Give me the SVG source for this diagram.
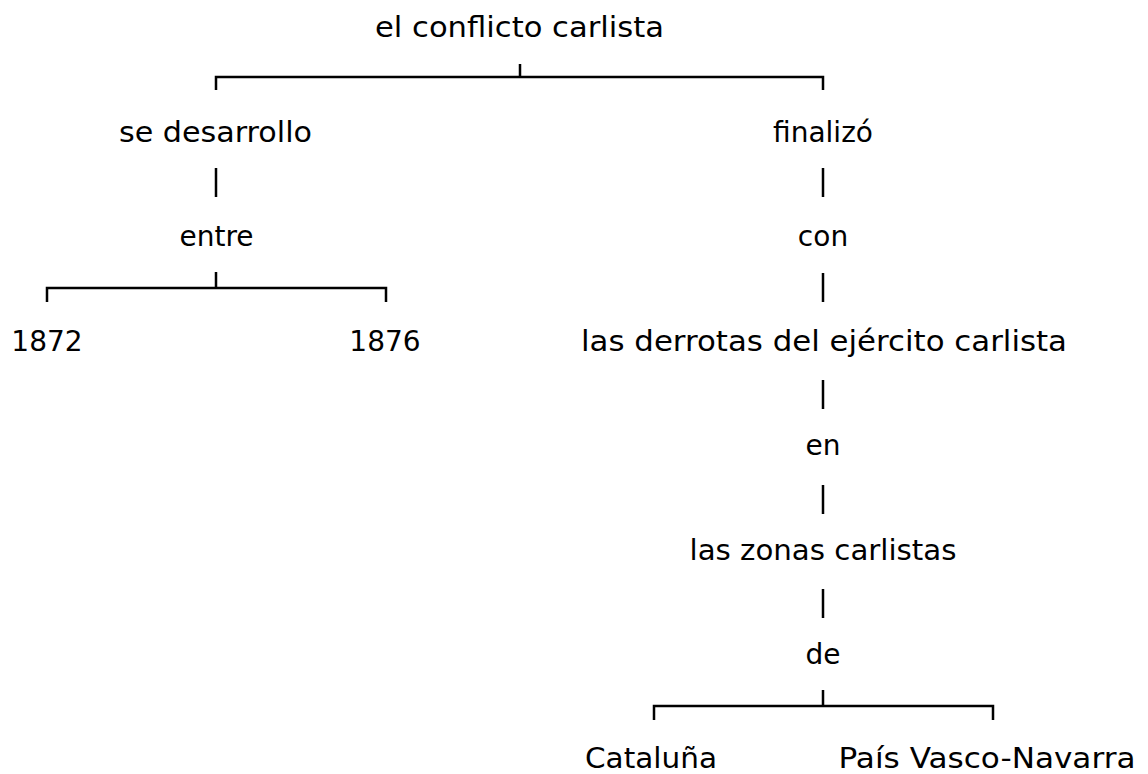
<svg xmlns="http://www.w3.org/2000/svg" width="1148" height="774" viewBox="0 0 1148 774">
<style>
text{font-family:"DejaVu Sans","Liberation Sans",sans-serif;font-size:28px;fill:#000;text-anchor:middle}
.c{stroke:#000;stroke-width:2.5;fill:none}
</style>
<rect width="1148" height="774" fill="#fff"/>
<g id="connectors">
<path class="c" d="M520,64V77M216,90V77H823V90"/>
<path class="c" d="M216,168V197"/>
<path class="c" d="M216,272V288M47,302V288H386V302"/>
<path class="c" d="M823,168V197"/>
<path class="c" d="M823,273V302"/>
<path class="c" d="M823,380V409"/>
<path class="c" d="M823,485V514"/>
<path class="c" d="M823,589V618"/>
<path class="c" d="M823,690V706M654,720V706H993V720"/>
</g>
<g id="n-root"><text x="519.5" y="37" textLength="289" lengthAdjust="spacingAndGlyphs">el conflicto carlista</text></g>
<g id="n-desarrollo"><text x="215.5" y="142" textLength="193" lengthAdjust="spacingAndGlyphs">se desarrollo</text></g>
<g id="n-entre"><text x="216.5" y="246">entre</text></g>
<g id="n-1872"><text x="47" y="351">1872</text></g>
<g id="n-1876"><text x="385" y="351">1876</text></g>
<g id="n-finalizo"><text x="823" y="142">finalizó</text></g>
<g id="n-con"><text x="823" y="246">con</text></g>
<g id="n-derrotas"><text x="824" y="351" textLength="486" lengthAdjust="spacingAndGlyphs">las derrotas del ejército carlista</text></g>
<g id="n-en"><text x="823" y="455">en</text></g>
<g id="n-zonas"><text x="823" y="560" textLength="267" lengthAdjust="spacingAndGlyphs">las zonas carlistas</text></g>
<g id="n-de"><text x="823" y="664">de</text></g>
<g id="n-cataluna"><text x="651" y="768" textLength="132" lengthAdjust="spacingAndGlyphs">Cataluña</text></g>
<g id="n-pais"><text x="987" y="768" textLength="297" lengthAdjust="spacingAndGlyphs">País Vasco-Navarra</text></g>
</svg>
